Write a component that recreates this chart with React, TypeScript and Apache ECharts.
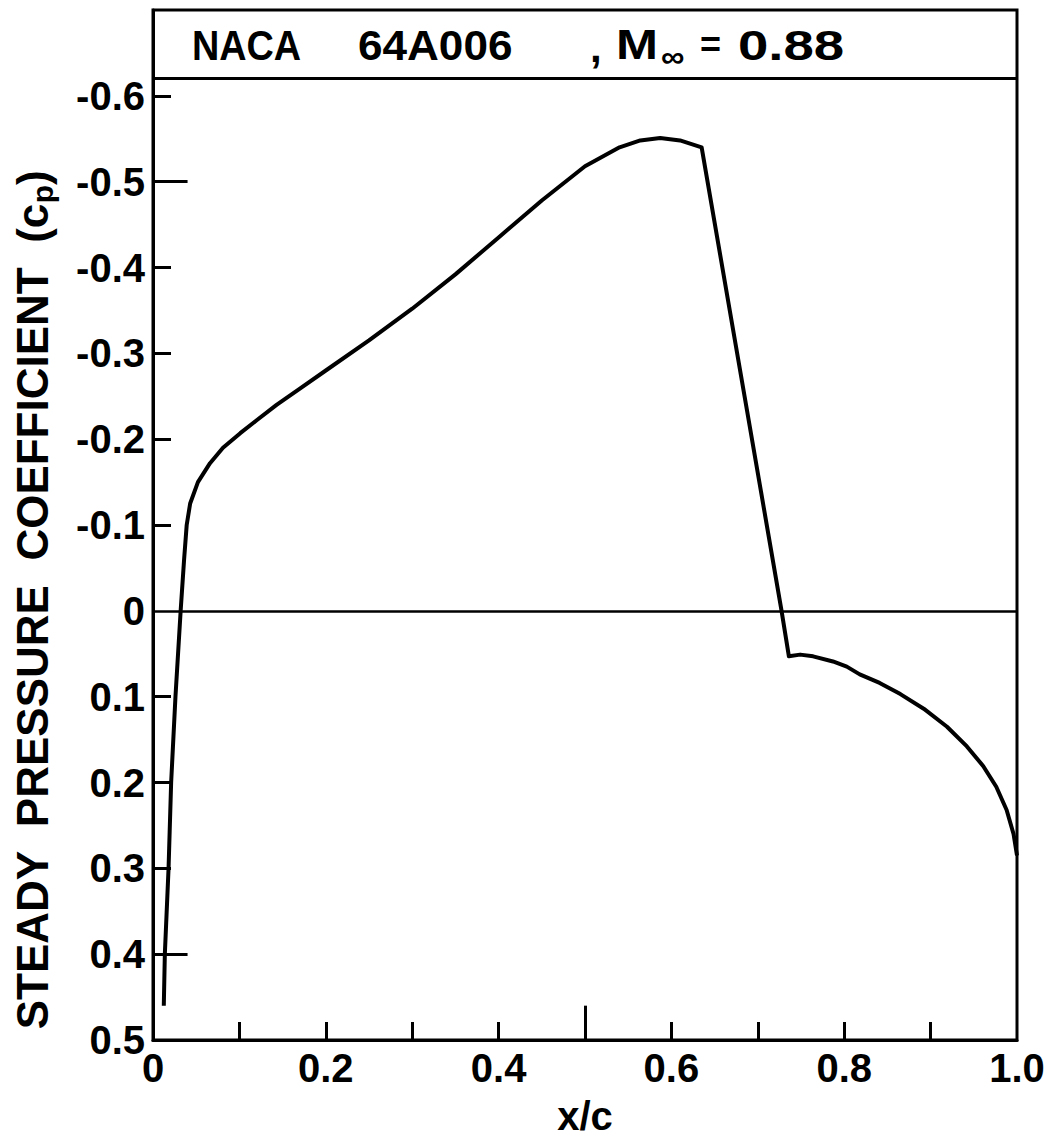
import React, { useEffect, useRef } from "react";
import * as echarts from "echarts";

// x/c stations along the chord
const xOverC = [
  0.0125, 0.0137, 0.018, 0.021, 0.026, 0.032, 0.036, 0.039, 0.043, 0.052,
  0.066, 0.081, 0.101, 0.12, 0.143, 0.17, 0.2, 0.25, 0.3, 0.35, 0.4, 0.45,
  0.5, 0.54, 0.564, 0.587, 0.61, 0.635, 0.7275, 0.736, 0.749, 0.764, 0.787,
  0.803, 0.818, 0.841, 0.865, 0.892, 0.919, 0.942, 0.961, 0.976, 0.988,
  0.996, 1.0,
];
// steady pressure coefficient cp
const cpValues = [
  0.46, 0.4, 0.3, 0.2, 0.1, 0.0, -0.06, -0.1, -0.125, -0.15, -0.172, -0.19,
  -0.207, -0.222, -0.24, -0.259, -0.28, -0.315, -0.352, -0.392, -0.435,
  -0.478, -0.518, -0.54, -0.548, -0.551, -0.548, -0.54, 0.0, 0.053, 0.051,
  0.053, 0.059, 0.065, 0.074, 0.084, 0.097, 0.114, 0.135, 0.158, 0.181,
  0.205, 0.232, 0.26, 0.285,
];

const xLabelValues = [0, 0.2, 0.4, 0.6, 0.8, 1.0];
const xTickValues = [0.1, 0.2, 0.3, 0.4, 0.5, 0.6, 0.7, 0.8, 0.9];
const yLabelValues = [-0.6, -0.5, -0.4, -0.3, -0.2, -0.1, 0, 0.1, 0.2, 0.3, 0.4, 0.5];
const yTickValues = [-0.6, -0.5, -0.4, -0.3, -0.2, -0.1, 0.1, 0.2, 0.3, 0.4];
const longTicksY = [-0.5, 0.4];
const longTicksX = [0.5];
const zeroLine = 0;
const titleDivider = -0.62;

const titleParts = ["NACA", "64A006", ",", "M", "\u221E", "=", "0.88"];
const yTitle = ["STEADY  PRESSURE  COEFFICIENT  (c", "p", ")"];
const xTitle = "x/c";

const FONT = '"Liberation Sans", Arial, sans-serif';

export default function App() {
  const ref = useRef<HTMLDivElement>(null);
  useEffect(() => {
    const chart = echarts.init(ref.current as HTMLDivElement, null, { renderer: "svg" });
    const data = xOverC.map((x, i) => [x, cpValues[i]]);
    const longTickLen = 0.04;
    const markData: any[] = [
      { yAxis: zeroLine, lineStyle: { width: 2.5 } },
      { yAxis: titleDivider, lineStyle: { width: 3 } },
      ...longTicksY.map((v) => [{ coord: [0, v] }, { coord: [longTickLen, v] }]),
      ...longTicksX.map((v) => [{ coord: [v, 0.5] }, { coord: [v, 0.5 - longTickLen] }]),
    ];
    // layout of the title pieces: [x, y, fontSize, scaleX]
    const titleLayout = [
      [192, 45, 42, 0.9],
      [358, 45, 42, 1.05],
      [590, 47, 42, 1],
      [616, 45, 42, 1.2],
      [661, 57, 30, 1.1],
      [700, 44, 36, 1],
      [738, 45, 42, 1.3],
    ];
    const titleGraphics = titleParts.map((t, i) => ({
      type: "text",
      x: titleLayout[i][0],
      y: titleLayout[i][1],
      scaleX: titleLayout[i][3],
      style: {
        text: t,
        fill: "#000",
        fontFamily: FONT,
        fontWeight: "bold",
        fontSize: titleLayout[i][2],
        verticalAlign: "middle",
      },
    }));
    chart.setOption({
      animation: false,
      backgroundColor: "#fff",
      grid: {
        left: 153,
        right: 40,
        top: 10,
        bottom: 104,
        show: true,
        borderColor: "#000",
        borderWidth: 3,
      },
      xAxis: {
        type: "value",
        min: 0,
        max: 1,
        interval: 0.1,
        splitLine: { show: false },
        axisLine: { show: true, onZero: false, lineStyle: { color: "#000", width: 3 } },
        axisTick: {
          show: true,
          inside: true,
          length: 18,
          lineStyle: { color: "#000", width: 3 },
          customValues: xTickValues,
        },
        axisLabel: {
          customValues: xLabelValues,
          formatter: (v: number) => (v === 0 ? "0" : v.toFixed(1)),
          color: "#000",
          fontFamily: FONT,
          fontWeight: "bold",
          fontSize: 40,
          margin: 8,
        },
        name: xTitle,
        nameLocation: "middle",
        nameGap: 56,
        nameTextStyle: {
          color: "#000",
          fontFamily: FONT,
          fontWeight: "bold",
          fontSize: 40,
        },
      },
      yAxis: {
        type: "value",
        inverse: true,
        min: -0.7,
        max: 0.5,
        interval: 0.1,
        splitLine: { show: false },
        axisLine: { show: true, onZero: false, lineStyle: { color: "#000", width: 3 } },
        axisTick: {
          show: true,
          inside: true,
          length: 18,
          lineStyle: { color: "#000", width: 3 },
          customValues: yTickValues,
        },
        axisLabel: {
          customValues: yLabelValues,
          formatter: (v: number) => (v === 0 ? "0" : v.toFixed(1)),
          color: "#000",
          fontFamily: FONT,
          fontWeight: "bold",
          fontSize: 40,
          margin: 8,
        },
      },
      graphic: [
        ...titleGraphics,
        {
          type: "text",
          x: 32,
          y: 600,
          rotation: Math.PI / 2,
          style: {
            text: `{t|${yTitle[0]}}{s|${yTitle[1]}}{t|${yTitle[2]}}`,
            align: "center",
            verticalAlign: "middle",
            fill: "#000",
            rich: {
              t: { fontFamily: FONT, fontWeight: "bold", fontSize: 44, lineHeight: 50, fill: "#000" },
              s: { fontFamily: FONT, fontWeight: "bold", fontSize: 30, lineHeight: 26, verticalAlign: "bottom", fill: "#000" },
            },
          },
        },
      ],
      series: [
        {
          type: "line",
          data,
          showSymbol: false,
          smooth: false,
          lineStyle: { color: "#000", width: 4, join: "round" },
          silent: true,
          markLine: {
            silent: true,
            symbol: ["none", "none"],
            label: { show: false },
            lineStyle: { color: "#000", type: "solid", width: 3 },
            emphasis: { disabled: true },
            data: markData,
          },
        },
      ],
    });
    return () => chart.dispose();
  }, []);
  return (
    <div
      ref={ref}
      style={{ position: "absolute", left: 0, top: 0, width: 1057, height: 1144, background: "#fff" }}
    />
  );
}
